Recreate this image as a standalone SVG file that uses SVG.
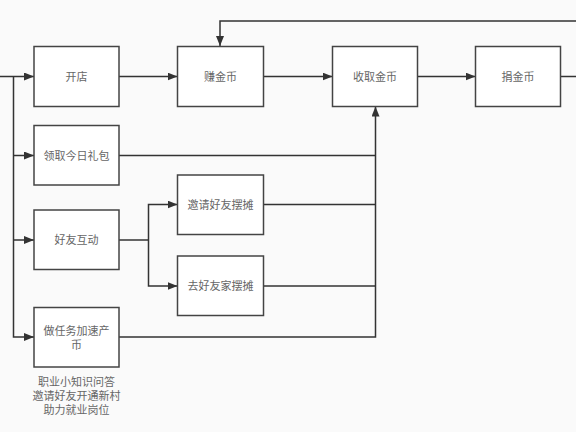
<svg xmlns="http://www.w3.org/2000/svg" width="576" height="432" viewBox="0 0 576 432">
<defs>
<marker id="ah" viewBox="0 0 10 8" refX="10" refY="4" markerWidth="10" markerHeight="8" markerUnits="userSpaceOnUse" orient="auto">
<path d="M0,0 L10,4 L0,8 Z" fill="#333"/>
</marker>
<style>
.box{fill:#fff;stroke:#444;stroke-width:1.5}
.lbl{font-family:"Liberation Sans","Noto Sans CJK SC",sans-serif;font-size:11px;fill:#666;text-anchor:middle;dominant-baseline:central}
.ln{fill:none;stroke:#333;stroke-width:1.5}
</style>
</defs>
<rect width="576" height="432" fill="#fafafa"/>
<g id="connectors">
<path class="ln" d="M0,76.5 H34" marker-end="url(#ah)"/>
<path class="ln" d="M13.5,76.5 V337 H34" marker-end="url(#ah)"/>
<path class="ln" d="M13.5,155.5 H34" marker-end="url(#ah)"/>
<path class="ln" d="M13.5,240 H34" marker-end="url(#ah)"/>
<path class="ln" d="M119,76.5 H177.5" marker-end="url(#ah)"/>
<path class="ln" d="M263.5,76.5 H332.5" marker-end="url(#ah)"/>
<path class="ln" d="M417.5,76.5 H475.5" marker-end="url(#ah)"/>
<path class="ln" d="M560.5,76.5 H576"/>
<path class="ln" d="M576,21 H220 V46" marker-end="url(#ah)"/>
<path class="ln" d="M119,240 H148.5"/>
<path class="ln" d="M148.5,240 V204.5 H177.5" marker-end="url(#ah)"/>
<path class="ln" d="M148.5,240 V286 H177.5" marker-end="url(#ah)"/>
<path class="ln" d="M119,155.5 H375.5"/>
<path class="ln" d="M263.5,204.5 H375.5"/>
<path class="ln" d="M263.5,286 H375.5"/>
<path class="ln" d="M119,337 H375.5 V106.5" marker-end="url(#ah)"/>
</g>
<g id="kaidian"><rect class="box" x="34" y="46.5" width="85" height="60"/><text class="lbl" x="76.5" y="76.5">开店</text></g>
<g id="zhuanjinbi"><rect class="box" x="177.5" y="46.5" width="86" height="60"/><text class="lbl" x="220.5" y="76.5">赚金币</text></g>
<g id="shouqujinbi"><rect class="box" x="332.5" y="46.5" width="85" height="60"/><text class="lbl" x="375" y="76.5">收取金币</text></g>
<g id="juanjinbi"><rect class="box" x="475.5" y="46.5" width="85" height="60"/><text class="lbl" x="518" y="76.5">捐金币</text></g>
<g id="libao"><rect class="box" x="34" y="125.5" width="85" height="59.5"/><text class="lbl" x="76.5" y="155.5">领取今日礼包</text></g>
<g id="haoyouhudong"><rect class="box" x="34" y="210" width="85" height="59.5"/><text class="lbl" x="76.5" y="240">好友互动</text></g>
<g id="yaoqing"><rect class="box" x="177.5" y="175" width="86" height="59.5"/><text class="lbl" x="220.5" y="205">邀请好友摆摊</text></g>
<g id="quhaoyoujia"><rect class="box" x="177.5" y="256" width="86" height="59.5"/><text class="lbl" x="220.5" y="286">去好友家摆摊</text></g>
<g id="zuorenwu"><rect class="box" x="34" y="307.5" width="85" height="59.5"/><text class="lbl" x="76.5" y="331">做任务加速产</text><text class="lbl" x="76.5" y="345">币</text></g>
<g id="note">
<text class="lbl" x="76.5" y="381.5">职业小知识问答</text>
<text class="lbl" x="76.5" y="395.5">邀请好友开通新村</text>
<text class="lbl" x="76.5" y="409.5">助力就业岗位</text>
</g>
</svg>
